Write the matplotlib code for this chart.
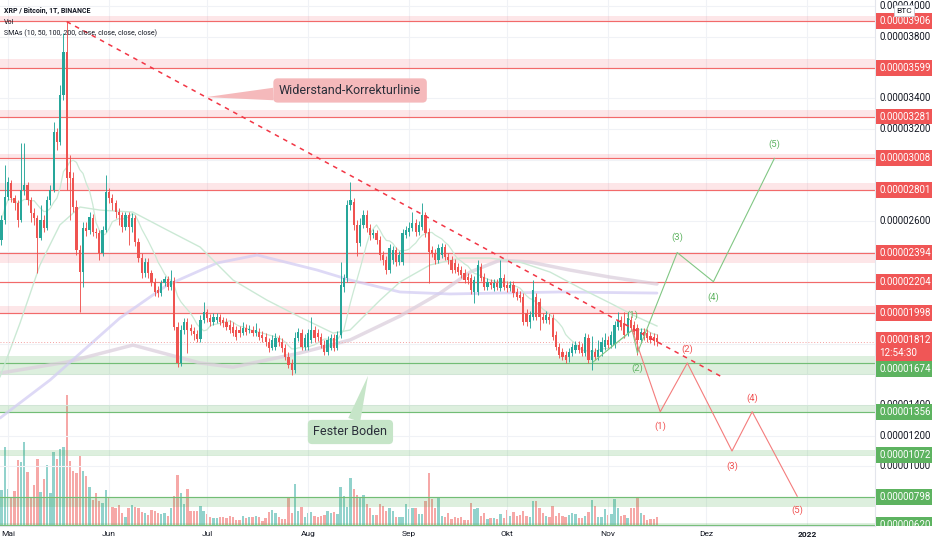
import matplotlib
matplotlib.use("Agg")
import matplotlib.pyplot as plt
import numpy as np
import pandas as pd

plt.rcParams['font.family'] = ['Roboto', 'DejaVu Sans']

# ---------------- data (prices in satoshi = 1e-8 BTC) ----------------
PRICE_UNIT = 1e-8
START_DAY = -2          # day index relative to 1 May 2021
OPEN = [2476,2606,2756,2848,2750,2717,2606,2802,2834,2737,2652,2619,2489,2606,2554,2737,2802,3180,3115,3421,
        3702,2919,2880,2691,2411,2267,2554,2541,2619,2528,2521,2391,2541,2789,2750,2717,2658,2639,2561,2639,
        2561,2619,2463,2358,2261,2332,2261,2202,2150,2130,2195,2221,2169,2208,1908,1674,1889,1941,1902,1882,
        1863,1830,1954,2006,1967,1941,1954,1974,1954,1941,1921,1908,1889,1889,1869,1902,1889,1889,1869,1876,
        1856,1843,1810,1771,1778,1837,1810,1771,1713,1674,1628,1837,1869,1778,1778,1824,1889,1869,1843,1791,
        1745,1771,1837,1771,1856,2169,2228,2704,2724,2574,2456,2574,2639,2554,2508,2521,2476,2378,2345,2280,
        2345,2411,2332,2332,2508,2528,2554,2587,2528,2561,2639,2528,2411,2391,2345,2378,2430,2365,2345,2326,
        2300,2280,2261,2234,2228,2137,2137,2300,2234,2169,2202,2163,2195,2163,2228,2182,2163,2182,2137,2117,
        2104,2000,1941,1974,2104,2071,1974,1954,1974,1967,1856,1778,1745,1726,1713,1739,1758,1791,1778,1739,
        1837,1693,1745,1713,1745,1778,1824,1791,1791,1908,1954,1934,1869,1954,1921,1902,1824,1876,1869,1850,
        1843,1837]
HIGH = [2639,2965,2887,2867,2769,2737,3108,3108,2854,2756,2684,2639,2704,2639,2763,2834,3245,3206,3487,3826,
        3898,3030,2919,2737,2443,2593,2593,2658,2645,2554,2541,2567,2900,2815,2776,2737,2684,2658,2658,2658,
        2652,2639,2489,2391,2358,2358,2280,2228,2176,2215,2241,2241,2280,2234,1941,1921,1967,1967,1928,1908,
        1889,1987,2071,2026,1993,2000,2000,1993,1974,1967,1954,1941,1915,1915,1941,1928,1921,1915,1934,1902,
        1882,1869,1837,1856,1869,1856,1837,1797,1745,1700,1876,1902,1895,1863,1895,1974,1915,1895,1869,1824,
        1850,1863,1863,1882,2332,2254,2737,2854,2750,2606,2619,2671,2671,2580,2547,2541,2502,2404,2371,2450,
        2437,2430,2404,2547,2567,2593,2658,2613,2600,2717,2658,2554,2437,2417,2450,2456,2450,2391,2371,2352,
        2326,2306,2287,2261,2254,2241,2345,2326,2261,2228,2221,2221,2221,2345,2254,2208,2208,2208,2163,2143,
        2130,2026,2013,2215,2130,2097,2000,2013,2000,1993,1882,1804,1771,1752,1771,1804,1817,1817,1804,1869,
        1863,1850,1771,1824,1843,1869,1850,1882,1947,2006,1980,2006,2006,1980,1947,1928,1902,1902,1895,1876,
        1869,1863]
LOW = [2443,2580,2737,2724,2671,2561,2593,2769,2704,2593,2574,2261,2476,2528,2541,2704,2789,3063,3095,3389,
       2802,2606,2658,2378,2006,2169,2502,2515,2502,2489,2345,2371,2528,2717,2671,2619,2574,2528,2541,2443,
       2528,2437,2332,2228,2234,2228,2176,2110,2104,2110,2176,2150,2150,1889,1647,1654,1863,1739,1856,1824,
       1810,1810,1934,1941,1915,1921,1934,1921,1908,1889,1869,1850,1824,1843,1856,1856,1869,1850,1850,1824,
       1810,1784,1745,1758,1758,1784,1745,1693,1641,1595,1608,1817,1758,1758,1758,1804,1810,1817,1771,1726,
       1726,1758,1752,1758,1837,2137,2202,2671,2541,2371,2437,2554,2528,2476,2489,2450,2345,2313,2254,2261,
       2319,2306,2313,2313,2489,2502,2534,2502,2508,2541,2495,2195,2365,2319,2326,2358,2345,2319,2261,2261,
       2247,2228,2195,2189,2124,2065,2117,2208,2150,2150,2156,2143,2150,2143,2150,2137,2143,2104,2084,2071,
       1921,1915,1902,1954,1954,1889,1934,1934,1928,1824,1758,1706,1693,1674,1680,1719,1739,1739,1719,1719,
       1674,1628,1693,1693,1719,1758,1771,1771,1771,1889,1889,1837,1850,1882,1856,1726,1804,1824,1810,1804,
       1791,1784]
CLOSE = [2606,2756,2854,2750,2717,2606,2802,2834,2737,2652,2619,2489,2606,2554,2737,2802,3180,3115,3421,3702,
         2880,2880,2691,2411,2267,2554,2534,2626,2528,2521,2391,2541,2789,2750,2717,2658,2639,2561,2639,2561,
         2619,2463,2358,2261,2332,2261,2202,2137,2130,2195,2221,2169,2208,1908,1674,1889,1941,1889,1882,1863,
         1830,1954,2006,1967,1941,1974,1974,1941,1934,1908,1889,1869,1843,1869,1902,1876,1895,1869,1889,1843,
         1837,1810,1771,1824,1837,1810,1771,1713,1661,1628,1837,1876,1778,1837,1869,1889,1837,1843,1791,1745,
         1824,1837,1771,1856,2182,2228,2704,2737,2574,2456,2574,2639,2554,2508,2521,2476,2378,2345,2280,2424,
         2411,2332,2378,2521,2541,2554,2587,2528,2574,2639,2521,2397,2391,2345,2424,2430,2365,2345,2280,2280,
         2267,2247,2215,2215,2150,2215,2313,2228,2169,2202,2182,2195,2169,2228,2169,2163,2182,2130,2104,2097,
         1941,1941,1987,2150,1974,1974,1954,1987,1954,1843,1778,1726,1713,1693,1745,1778,1791,1758,1739,1843,
         1693,1758,1713,1758,1810,1824,1791,1856,1921,1954,1908,1856,1967,1902,1876,1824,1876,1850,1837,1824,
         1817,1812]
VOLUME = [35,78,36,28,34,65,63,83,53,27,40,66,33,46,60,32,73,66,76,78,130,
          64,54,52,69,54,49,38,25,32,24,22,35,28,18,17,20,12,8,17,20,18,17,13,12,10,15,14,12,11,12,9,17,
          29,50,32,21,36,14,14,14,19,14,11,8,7,7,8,8,7,9,8,5,5,9,7,8,8,9,8,4,7,13,15,12,8,6,6,27,12,41,14,
          18,8,12,13,9,8,9,10,14,12,13,11,
          38,29,18,47,36,30,27,30,21,17,10,10,21,19,14,17,14,8,8,8,21,16,17,17,11,11,24,52,26,17,28,9,8,12,
          6,8,7,8,5,5,
          22,16,17,9,12,6,7,7,6,11,7,15,9,13,9,10,14,9,8,24,24,17,12,9,8,19,9,12,9,8,10,12,
          11,7,7,9,13,25,19,8,8,16,10,11,26,17,9,10,7,17,17,28,12,10,5,6,6,8]

MONTH_TICKS = [0, 31, 61, 92, 123, 153, 184, 214, 245]
MONTH_LABELS = ['Mai', 'Jun', 'Jul', 'Aug', 'Sep', 'Okt', 'Nov', 'Dez', '2022']

# price-scale ticks that stay visible beside the coloured level labels
PRICE_TICKS = [4000, 3800, 3400, 3200, 2600, 1400, 1200, 1000]

# moving averages (day, price)
SMA50_D = [-2.45, 3.7, 9.8, 15.9, 22.1, 28.2, 38.3, 48.8, 58.9, 69, 79.4, 89.5, 99.7, 104.9, 114.1, 120.2,
           129.4, 138.6, 147.8, 157, 166.2, 175.4, 184.6, 192.3, 199]
SMA50_V = [1584, 1935, 2313, 2574, 2691, 2671, 2658, 2541, 2430, 2215, 2084, 1974, 1869, 1889, 2084, 2202,
           2313, 2358, 2358, 2332, 2267, 2163, 2065, 1980, 1915]
SMA100_D = [-2.45, 12.9, 34.3, 48.8, 64.1, 76.4, 94.8, 104.9, 120.2, 135.5, 150.9, 169.3, 199]
SMA100_V = [1315, 1563, 1967, 2182, 2326, 2378, 2280, 2215, 2137, 2124, 2130, 2137, 2130]
SMA200_D = [-2.45, 18.1, 38.3, 58.9, 69, 89.5, 104.9, 120.2, 132.5, 141.7, 150.9, 160.1, 172.3, 184.6, 199]
SMA200_V = [1608, 1680, 1791, 1674, 1647, 1739, 1824, 1980, 2130, 2267, 2345, 2332, 2280, 2234, 2189]

# drawn levels
RED_LEVELS = [3906, 3599, 3281, 3008, 2801, 2394, 2204, 1998]
RED_BANDS = [(3906, 3938), (3599, 3657), (3281, 3324), (3008, 3037), (2801, 2850), (2326, 2394), (1998, 2045)]
GREEN_LEVELS = [1674, 1356, 1072, 798, 620]
GREEN_BANDS = [(1595, 1720), (1356, 1400), (1072, 1106), (735, 798), (611, 632)]

TREND_D = [18.0, 218.4]
TREND_V = [3900, 1589]

GREEN_WAVE_D = [179.4, 191.4, 193.0, 205.2, 216.3, 235.0]
GREEN_WAVE_V = [1680, 1889, 1739, 2394, 2204, 3008]
RED_WAVE_D = [191.4, 200.0, 208.3, 222.0, 228.2, 242.0]
RED_WAVE_V = [1889, 1356, 1674, 1100, 1356, 805]
WAVE_LABELS = ['', '(1)', '(2)', '(3)', '(4)', '(5)']

# ---------------- figure ----------------
W, H = 932, 550
PLOT_RIGHT, PLOT_BOTTOM = 875, 526
XLIM = (-2.45, 265.85)
YLIM = (611, 4041)

fig = plt.figure(figsize=(W / 100, H / 100), dpi=100)
fig.patch.set_facecolor('white')

axv = fig.add_axes([0, (H - 525) / H, PLOT_RIGHT / W, 133 / H])
ax = fig.add_axes([0, (H - PLOT_BOTTOM) / H, PLOT_RIGHT / W, PLOT_BOTTOM / H])
axr = fig.add_axes([PLOT_RIGHT / W, (H - PLOT_BOTTOM) / H, (W - PLOT_RIGHT) / W, PLOT_BOTTOM / H])
axv.set_zorder(0)
ax.set_zorder(1)
axr.set_zorder(2)
ax.patch.set_alpha(0)
axv.patch.set_alpha(0)
axr.patch.set_alpha(0)

days = np.arange(START_DAY, START_DAY + len(CLOSE))
o = np.array(OPEN, float); h = np.array(HIGH, float)
l = np.array(LOW, float); c = np.array(CLOSE, float)
up = c >= o
GREEN_C, RED_C = '#26a69a', '#ef5350'
cols = np.where(up, GREEN_C, RED_C)

# volume
axv.bar(days, VOLUME, width=0.72, color=cols, alpha=0.5, linewidth=0)
axv.set_xlim(XLIM)
axv.set_ylim(0, 133)
axv.axis('off')

# grid
ax.set_xlim(XLIM)
ax.set_ylim(YLIM)
ax.set_yticks(np.arange(800, 4001, 200))
ax.tick_params(axis='y', left=False, labelleft=False)
ax.set_xticks(MONTH_TICKS, MONTH_LABELS)
ax.tick_params(axis='x', length=0, pad=3.5, labelsize=6, labelcolor='#131722')
ax.get_xticklabels()[-1].set_fontweight('bold')
ax.grid(True, color='#f0f2f6', lw=0.8, zorder=0)
ax.set_axisbelow(True)
for s in ['top', 'left']:
    ax.spines[s].set_visible(False)
for s in ['right', 'bottom']:
    ax.spines[s].set_color('#e3e5ec')
    ax.spines[s].set_linewidth(0.8)

# bands and levels
for lo, hi in RED_BANDS:
    ax.axhspan(lo, hi, color='#f23645', alpha=0.12, lw=0, zorder=1)
for v in RED_LEVELS:
    ax.axhline(v, color='#f26a6a', lw=0.85, zorder=2)
for lo, hi in GREEN_BANDS:
    ax.axhspan(lo, hi, color='#4caf50', alpha=0.19, lw=0, zorder=1)
for v in GREEN_LEVELS:
    ax.axhline(v, color='#72bd75', lw=0.85 if v != 1072 else 0.5, alpha=1 if v != 1072 else 0.4, zorder=2)

# moving averages
sma10 = pd.Series(CLOSE, dtype=float).rolling(10, min_periods=1).mean()
ax.plot(SMA200_D, SMA200_V, color='#dccfdd', lw=2.5, alpha=0.75, zorder=2, solid_capstyle='round')
ax.plot(SMA100_D, SMA100_V, color='#d3cdf3', lw=2.0, alpha=0.75, zorder=2, solid_capstyle='round')
ax.plot(SMA50_D, SMA50_V, color='#cbe9d5', lw=1.0, zorder=2)
ax.plot(days, sma10, color='#cbe9d5', lw=0.9, zorder=2)

# current price line
ax.axhline(CLOSE[-1], color='#f4a0a0', lw=0.7, ls=(0, (1, 2)), zorder=2)

# candles
ax.vlines(days, l, h, colors=cols, lw=0.65, zorder=3)
ax.bar(days, c - o, bottom=o, width=0.68, color=cols, linewidth=0, zorder=3.1)

# trend line
ax.plot(TREND_D, TREND_V, color='#f23645', lw=1.1, ls=(0, (3, 3.2)), zorder=4)

# elliott waves
ax.plot(GREEN_WAVE_D, GREEN_WAVE_V, color='#81c784', lw=0.8, zorder=4)
ax.plot(RED_WAVE_D, RED_WAVE_V, color='#f47c7c', lw=0.8, zorder=4)
GREEN_DY = [0, 11, -11, 11, -11, 10]
RED_DY = [0, -10.5, 10, -11, 9.5, -10]
for d, v, t, dy in zip(GREEN_WAVE_D, GREEN_WAVE_V, WAVE_LABELS, GREEN_DY):
    if t:
        ax.annotate(t, (d, v), xytext=(0, dy), textcoords='offset points', ha='center', va='center',
                    fontsize=6.8, color='#5fb462', zorder=5)
for d, v, t, dy in zip(RED_WAVE_D, RED_WAVE_V, WAVE_LABELS, RED_DY):
    if t:
        ax.annotate(t, (d, v), xytext=(0, dy), textcoords='offset points', ha='center', va='center',
                    fontsize=6.8, color='#f05050', zorder=5)

# callouts
RES_TIP_D = 60.7
RES_LABEL_POS = (104.9, 3451)
PINK = '#f5b9bb'
ax.annotate('Widerstand-Korrekturlinie', xy=(RES_TIP_D, np.interp(RES_TIP_D, TREND_D, TREND_V)),
            xytext=RES_LABEL_POS, textcoords='data', ha='center', va='center', fontsize=9, color='#2a2e39',
            bbox=dict(boxstyle='round,pad=0.45,rounding_size=0.35', fc=PINK, ec='none'),
            arrowprops=dict(arrowstyle='wedge,tail_width=1.0,shrink_factor=0.5', fc=PINK, ec='none',
                            shrinkA=0, shrinkB=0), zorder=6)
FLOOR_TIP = (110.4, 1590)
FLOOR_LABEL_POS = (105.0, 1224)
MINT = '#c6e5c8'
ax.annotate('Fester Boden', xy=FLOOR_TIP, xytext=FLOOR_LABEL_POS, textcoords='data', ha='center',
            va='center', fontsize=9, color='#2a2e39',
            bbox=dict(boxstyle='round,pad=0.45,rounding_size=0.35', fc=MINT, ec='none'),
            arrowprops=dict(arrowstyle='wedge,tail_width=1.0,shrink_factor=0.5', fc=MINT, ec='none',
                            shrinkA=0, shrinkB=0), zorder=6)

# right price scale
axr.set_xlim(0, 1)
axr.set_ylim(YLIM)
axr.axis('off')
LX = 4 / (W - PLOT_RIGHT)
FS = 7
for v in PRICE_TICKS:
    axr.text(LX, v, f"{v * PRICE_UNIT:.8f}", fontsize=FS, color='#131722', ha='left', va='center',
             zorder=2, clip_on=True)


def price_box(v, fc, dy=0.0, extra='', va='center'):
    axr.annotate(f"{v * PRICE_UNIT:.8f}" + extra, xy=(LX, v), xytext=(0, dy), textcoords='offset points',
                 ha='left', va=va, fontsize=FS, color='white', linespacing=1.35,
                 bbox=dict(boxstyle='square,pad=0.3', fc=fc, ec='none'), zorder=3, clip_on=True)


RED_BOX, GREEN_BOX = '#f05656', '#5db360'
for v in RED_LEVELS:
    price_box(v, RED_BOX)
for v in GREEN_LEVELS:
    price_box(v, GREEN_BOX, dy=-4.3 if v == 1674 else 0)
price_box(CLOSE[-1], RED_BOX, dy=5.0, extra='\n12:54:30', va='top')
axr.text(0.37, 3972, 'BTC', fontsize=6, color='#131722', ha='left', va='center', zorder=4,
         bbox=dict(boxstyle='square,pad=0.25', fc='white', ec='#c9ccd4', lw=0.6))

# legend texts
fig.text(4 / W, 1 - 11 / H, 'XRP / Bitcoin, 1T, BINANCE', fontsize=5, fontweight='bold',
         color='#131722', va='center', ha='left')
fig.text(4 / W, 1 - 22 / H, 'Vol', fontsize=5, color='#131722', va='center', ha='left')
fig.text(4 / W, 1 - 33 / H, 'SMAs (10, 50, 100, 200, close, close, close, close)', fontsize=5,
         color='#131722', va='center', ha='left')

fig.savefig('out.png', dpi=100)
